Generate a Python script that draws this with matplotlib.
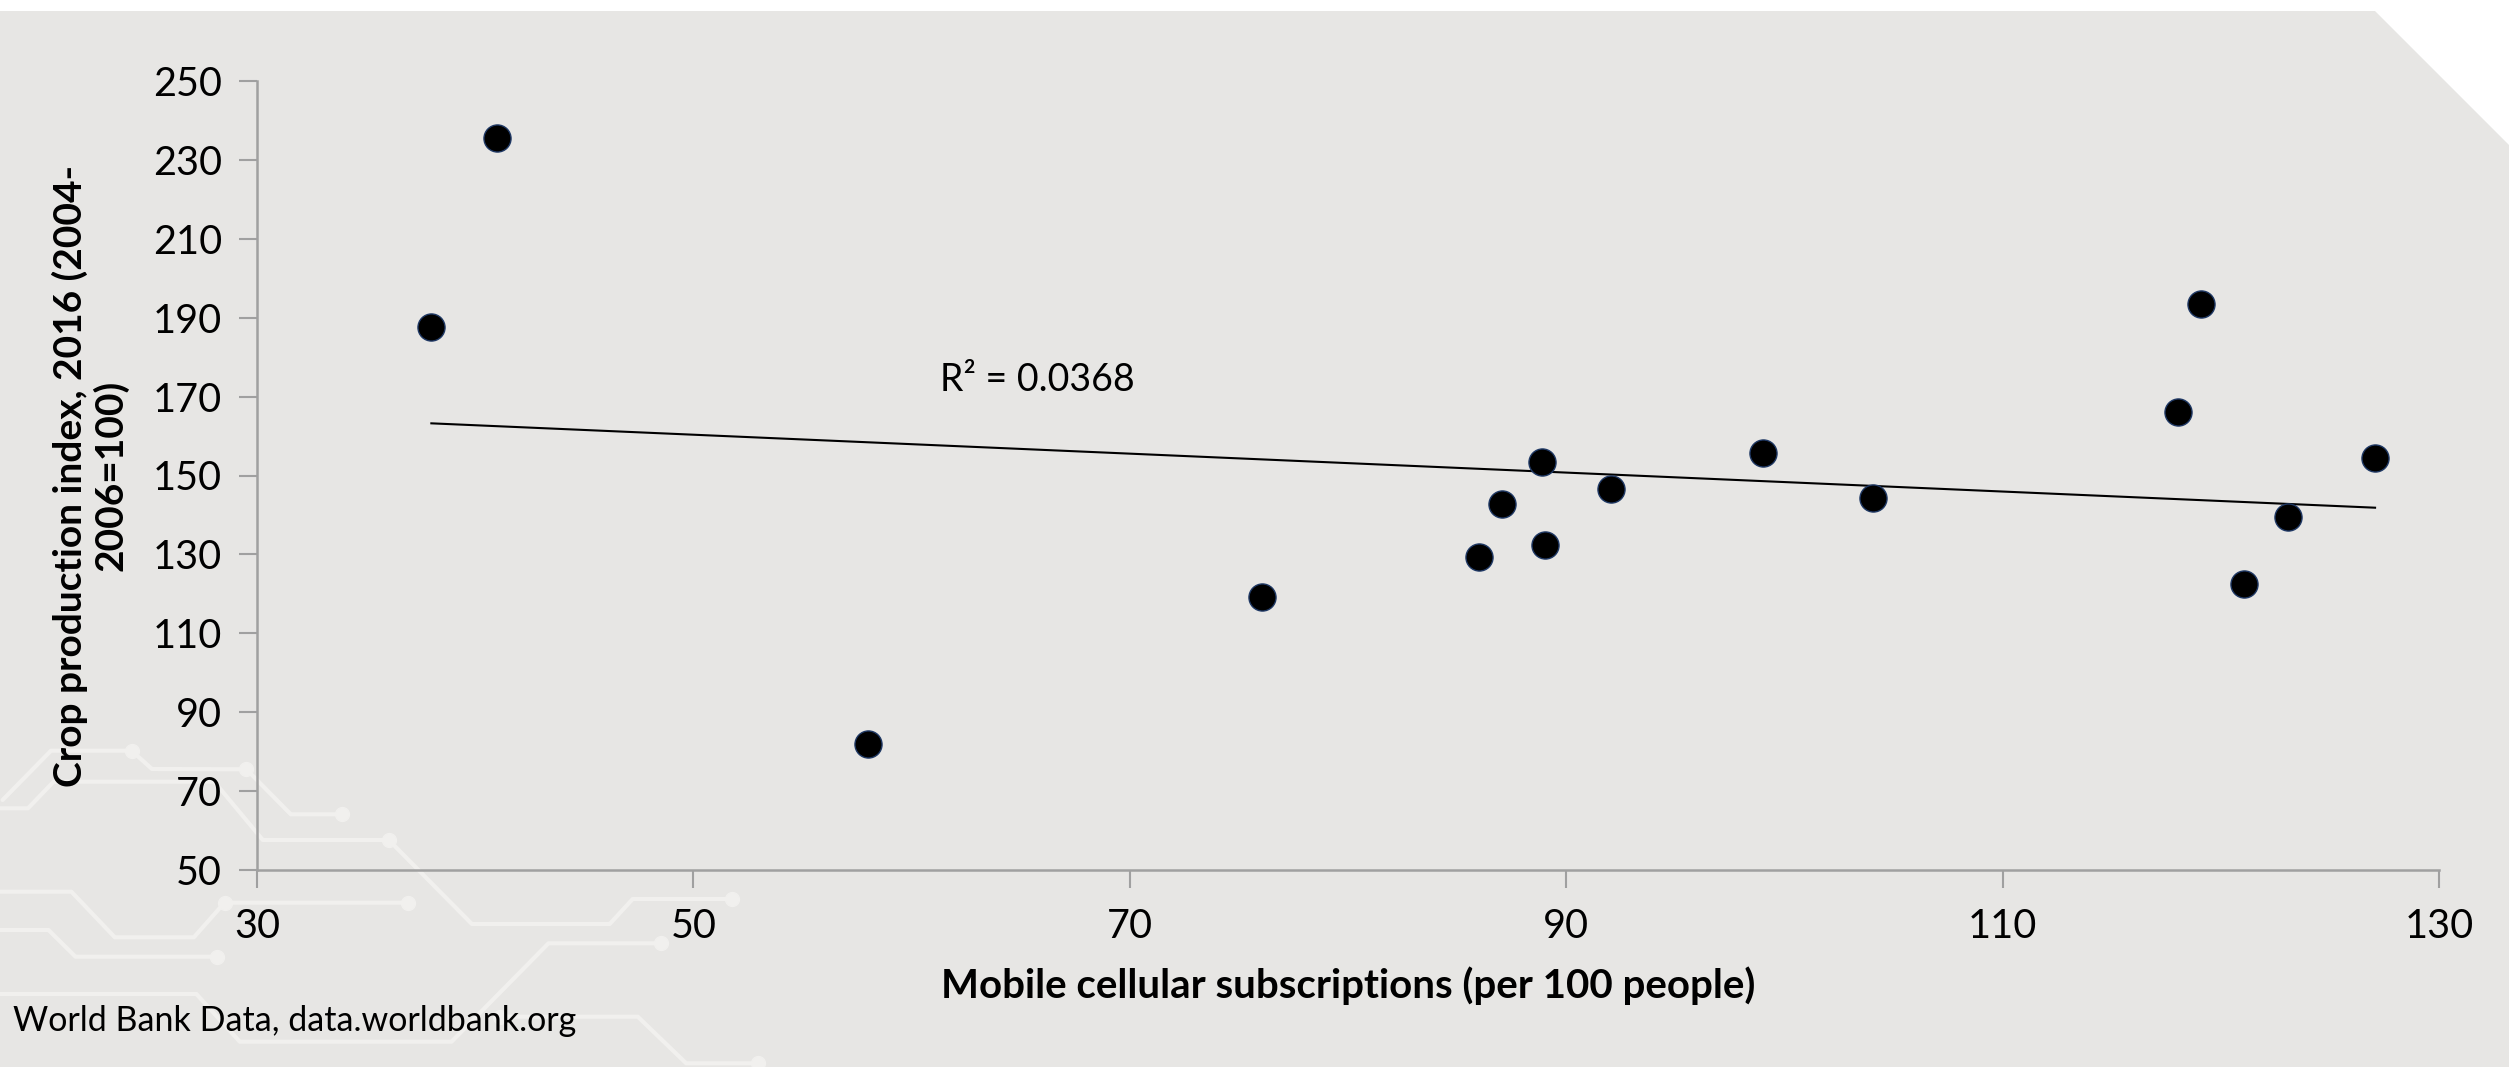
import numpy as np
import matplotlib
matplotlib.use("Agg")
import matplotlib.pyplot as plt
from matplotlib.patches import Polygon
from matplotlib.lines import Line2D

# Mobile cellular subscriptions (per 100 people) vs crop production index, 2016
mobile_subs = [37.99, 40.98, 58.0, 76.04, 86.02, 87.04, 88.87, 89.04, 92.04,
               99.04, 104.05, 118.06, 119.07, 121.06, 123.08, 127.07]
crop_index = [187.7, 235.6, 82.0, 119.1, 129.3, 142.9, 153.5, 132.5, 146.6,
              155.6, 144.4, 166.0, 193.5, 122.5, 139.5, 154.5]

x_ticks = [30, 50, 70, 90, 110, 130]
y_ticks = [50, 70, 90, 110, 130, 150, 170, 190, 210, 230, 250]

r2_label = "R² = 0.0368"
x_label = "Mobile cellular subscriptions (per 100 people)"
y_label = "Crop production index, 2016 (2004-\n2006=100)"
source_label = "World Bank Data, data.worldbank.org"

W, H = 2509, 1067
DPI = 100
BG = "#e7e6e4"
LINE_DECOR = "#f1f0ee"

plt.rcParams["font.family"] = ["Lato", "DejaVu Sans"]

fig = plt.figure(figsize=(W / DPI, H / DPI), dpi=DPI, facecolor="white")


def px(x, y):
    """Figure pixel (from top-left) to figure fraction."""
    return x / W, 1 - y / H


# Grey slide background with the clipped top-right corner
bg_pts = [px(0, 11), px(2375, 11), px(2509, 145), px(2509, H), px(0, H)]
fig.patches.append(Polygon(bg_pts, closed=True, transform=fig.transFigure,
                           facecolor=BG, edgecolor="none", zorder=0))

# Faint circuit-trace ornament in the lower-left corner
traces = [
    ([(2.6, 800), (51, 750.7), (131.6, 750.7), (152, 769), (246.4, 769.3),
      (290.8, 814.3), (341.8, 814.3)], [(131.6, 750.7), (246.4, 769.3), (341.8, 814.3)]),
    ([(0, 808.3), (28, 808.3), (53.6, 781.7), (214.3, 781.7), (262.8, 840),
      (388.8, 840), (471.9, 924), (609.7, 924), (632.7, 899), (732.1, 899)],
     [(388.8, 840), (732.1, 899)]),
    ([(0, 891.7), (71.4, 891.7), (114.8, 937.3), (193.9, 937.3), (224.5, 902.7),
      (408.2, 902.7)], [(224.5, 902.7), (408.2, 902.7)]),
    ([(0, 930), (48.5, 930), (75.5, 956.7), (216.8, 956.7)], [(216.8, 956.7)]),
    ([(0, 994), (196.4, 994), (239.8, 1041.7), (451.5, 1041.7), (548.5, 943.3),
      (660.7, 943.3)], [(660.7, 943.3)]),
    ([(500, 1016.7), (637.8, 1016.7), (686.2, 1063.3), (757.7, 1063.3)],
     [(500, 1016.7), (757.7, 1063.3)]),
]
for path, dots in traces:
    fx, fy = zip(*[px(x, y) for x, y in path])
    fig.lines.append(Line2D(fx, fy, transform=fig.transFigure, color=LINE_DECOR,
                            lw=3.0, solid_capstyle="round", zorder=1))
    for dx, dy in dots:
        cx, cy = px(dx, dy)
        fig.lines.append(Line2D([cx], [cy], transform=fig.transFigure, marker="o",
                                markersize=10, color=LINE_DECOR, lw=0, zorder=1))

# Plot area
ax = fig.add_axes([257 / W, 1 - 870 / H, (2439 - 257) / W, (870 - 81) / H])
ax.set_facecolor("none")
ax.set_zorder(2)

xs = np.array(mobile_subs)
ys = np.array(crop_index)
slope, intercept = np.polyfit(xs, ys, 1)
x_line = np.array([xs.min(), xs.max()])
ax.plot(x_line, slope * x_line + intercept, color="black", lw=1.5, zorder=2)

ax.plot(xs, ys, linestyle="none", marker="o", markersize=19.5,
        markerfacecolor="black", markeredgecolor="#1f3864", markeredgewidth=1.0,
        zorder=3)

ax.text(61.3, 174.2, r2_label, fontsize=27, va="center", ha="left", color="black")

ax.set_xlim(30, 130)
ax.set_ylim(50, 250)
ax.set_xticks(x_ticks)
ax.set_yticks(y_ticks)
ax.tick_params(axis="both", direction="out", length=13, width=1.5, color="#a0a0a0",
               labelsize=28.5, labelcolor="black")
ax.tick_params(axis="x", pad=14)
ax.tick_params(axis="y", pad=12)

for side in ("top", "right"):
    ax.spines[side].set_visible(False)
for side in ("left", "bottom"):
    ax.spines[side].set_color("#a0a0a0")
    ax.spines[side].set_linewidth(1.8)

ax.set_xlabel(x_label, fontsize=29, fontweight="bold")
ax.xaxis.set_label_coords(0.5, -0.122)
ax.set_ylabel(y_label, fontsize=28, fontweight="bold", linespacing=1.15,
              va="center")
ax.yaxis.set_label_coords(-0.0765, 0.5)

fig.text(13 / W, 1 - 1021 / H, source_label, fontsize=24.5, va="center", ha="left",
         color="black")

fig.savefig("out.png", dpi=DPI, facecolor="white")
